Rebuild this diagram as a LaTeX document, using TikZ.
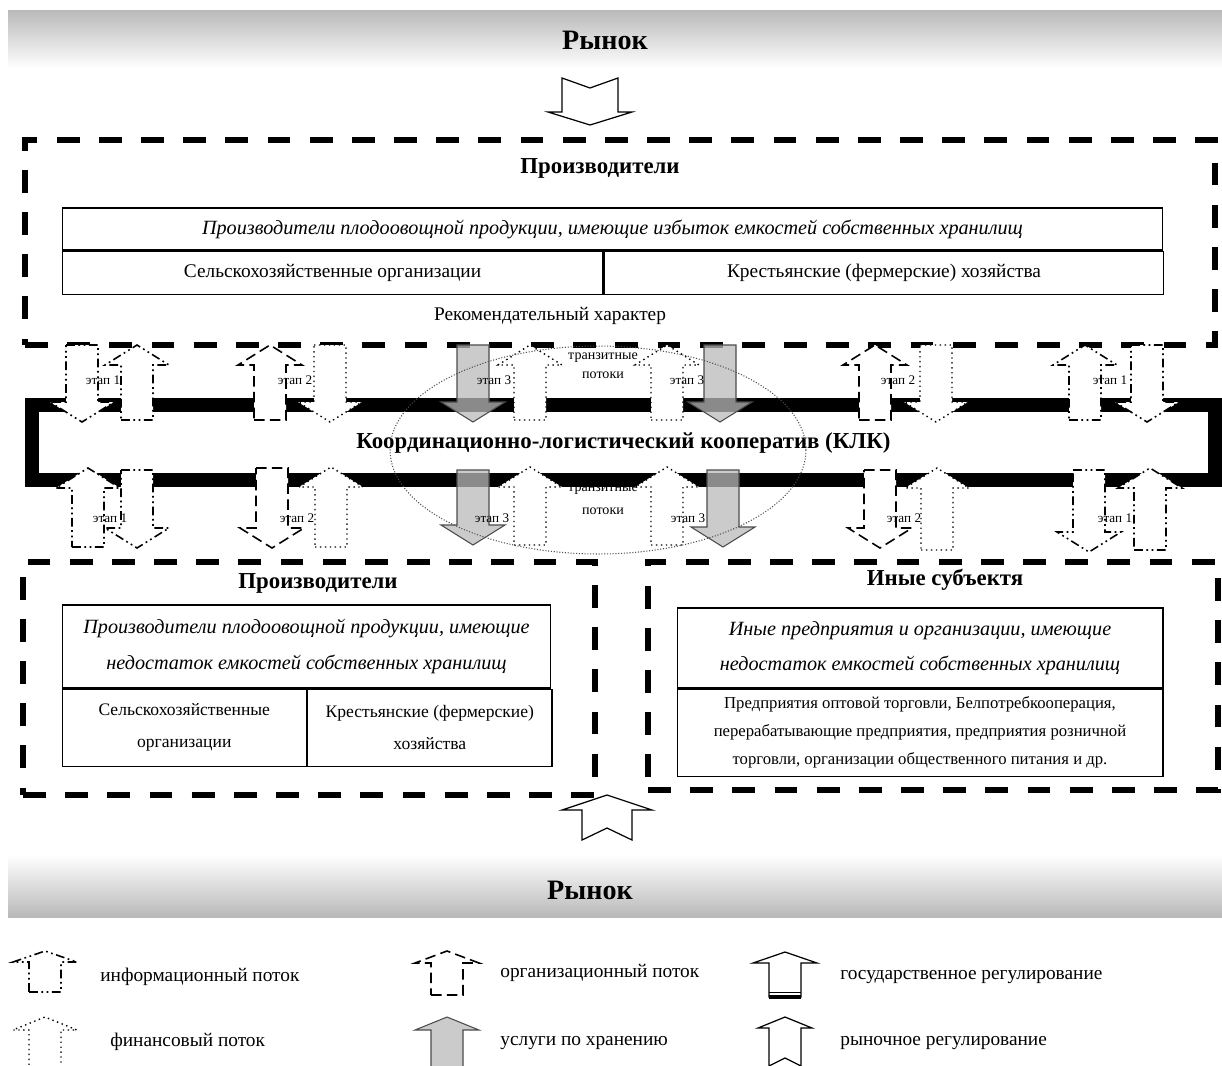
\documentclass[tikz,border=0pt]{standalone}
\usepackage{fontspec}
\setmainfont{Liberation Serif}
\usetikzlibrary{positioning}

% block arrow: [head length]{x}{tail y}{tip y}{style}
\newcommand{\blockarr}[5][20]{%
  \pgfmathsetmacro{\dr}{(#4-#3)/abs(#4-#3)}%
  \pgfmathsetmacro{\hb}{#4-#1*\dr}%
  \draw[#5] (#2-16,#3) -- (#2+16,#3) -- (#2+16,\hb) -- (#2+32,\hb) -- (#2,#4)
    -- (#2-32,\hb) -- (#2-16,\hb) -- cycle;}
% market arrow with notched tail: {x}{tail}{tip}{shaft half}{head half}{head length}{notch}
\newcommand{\mktarr}[7]{%
  \pgfmathsetmacro{\dr}{(#3-#2)/abs(#3-#2)}%
  \pgfmathsetmacro{\hb}{#3-#6*\dr}%
  \pgfmathsetmacro{\nt}{#2+#7*\dr}%
  \draw[mkt] (#1-#4,#2) -- (#1,\nt) -- (#1+#4,#2) -- (#1+#4,\hb) -- (#1+#5,\hb)
    -- (#1,#3) -- (#1-#5,\hb) -- (#1-#4,\hb) -- cycle;}

\begin{document}
\begin{tikzpicture}[x=0.02cm,y=-0.02cm,
    zone/.style={draw,line width=3.8pt,dash pattern=on 13pt off 11pt,inner sep=0pt},
    cell/.style={draw,line width=0.6pt,inner sep=2pt,align=center,font=\fontsize{11}{19}\selectfont},
    ttl/.style={font=\fontsize{13}{15}\selectfont\bfseries},
    mkttxt/.style={font=\fontsize{16}{18}\selectfont\bfseries},
    klkbox/.style={draw,line width=8pt,inner sep=0pt,font=\fontsize{13}{15}\selectfont\bfseries},
    info/.style={fill=white,line width=0.9pt,dash pattern=on 5pt off 2pt on 1pt off 2pt on 1pt off 2pt},
    orgf/.style={fill=white,line width=0.9pt,dash pattern=on 6pt off 3pt},
    finf/.style={fill=white,line width=0.8pt,dotted},
    stor/.style={draw=gray!60!black,fill=gray!55,fill opacity=0.75,line width=0.6pt},
    mkt/.style={draw,fill=white,line width=0.7pt},
    stage/.style={inner sep=1pt,font=\fontsize{7.5}{9}\selectfont},
    legtxt/.style={anchor=west,inner sep=0pt,font=\fontsize{11}{13}\selectfont}]
\useasboundingbox (0,0) rectangle (1222,1065);
\clip (0,0) rectangle (1222,1065);

% market bands
\shade[top color=gray!55,bottom color=white] (8,10) rectangle (1222,68);
\shade[top color=white,bottom color=gray!55] (8,855) rectangle (1222,917);
\node[mkttxt] (mkttop) at (605,40) {Рынок};
\node[mkttxt] (mktbot) at (590,890) {Рынок};
\mktarr{590}{78}{125}{28}{42}{13}{10}
\mktarr{607}{840}{795}{25}{45}{15}{12}

% producers with surplus storage
\node[zone,minimum width=23.8cm,minimum height=4.1cm] (topzone) at (620,242.5) {};
\node[ttl] (toptitle) at (600,168) {Производители};
\node[cell,font=\fontsize{11.5}{14}\selectfont\itshape,minimum width=22.02cm,minimum height=0.84cm] (topwide) at (612.5,229)
  {Производители плодоовощной продукции, имеющие избыток емкостей собственных хранилищ};
\node[cell,minimum width=10.82cm,minimum height=0.86cm,anchor=north west] (topagri) at (topwide.south west)
  {Сельскохозяйственные организации};
\node[cell,minimum width=11.2cm,minimum height=0.86cm,anchor=north west] (topfarm) at (topagri.north east)
  {Крестьянские (фермерские) хозяйства};
\node[font=\fontsize{11}{13}\selectfont] (advice) at (550,316) {Рекомендательный характер};

% producers lacking storage
\node[zone,minimum width=11.44cm,minimum height=4.66cm] (leftzone) at (309,678.5) {};
\node[ttl] (lefttitle) at (318,583) {Производители};
\node[cell,font=\fontsize{11.5}{20}\selectfont\itshape,minimum width=9.78cm,minimum height=1.66cm] (leftwide) at (306.5,646.5)
  {Производители плодоовощной продукции, имеющие\\недостаток емкостей собственных хранилищ};
\node[cell,font=\fontsize{10}{18}\selectfont,minimum width=4.89cm,minimum height=1.54cm,anchor=north west] (leftagri) at (leftwide.south west)
  {Сельскохозяйственные\\организации};
\node[cell,font=\fontsize{10}{18}\selectfont,minimum width=4.89cm,minimum height=1.54cm,anchor=north west] (leftfarm) at (leftagri.north east)
  {Крестьянские (фермерские)\\хозяйства};

% other subjects
\node[zone,minimum width=11.4cm,minimum height=4.56cm] (rightzone) at (933,676) {};
\node[ttl] (righttitle) at (945,580) {Иные субъектя};
\node[cell,font=\fontsize{11.5}{20}\selectfont\itshape,minimum width=9.72cm,minimum height=1.6cm] (rightwide) at (920,648)
  {Иные предприятия и организации, имеющие\\недостаток емкостей собственных хранилищ};
\node[cell,font=\fontsize{9.5}{16}\selectfont,minimum width=9.72cm,minimum height=1.74cm,anchor=north] (rightlist) at (rightwide.south)
  {Предприятия оптовой торговли, Белпотребкооперация,\\перерабатывающие предприятия, предприятия розничной\\торговли, организации общественного питания  и др.};

% cooperative
\node[klkbox,minimum width=23.66cm,minimum height=1.5cm] (klk) at (623.5,442.5)
  {Координационно-логистический кооператив (КЛК)};

% flows
\foreach \x/\a/\b/\s in {82/345/422/info,137/420/345/info,270/420/345/orgf,330/345/422/finf,
    473/345/422/stor,530/420/345/finf,667/420/345/finf,720/345/422/stor,
    875/420/345/orgf,936/345/422/finf,1085/420/345/info,1147/345/422/info,
    88/547/468/info,137/470/548/info,272/468/548/orgf,331/547/467/finf,
    473/470/545/stor,530/545/467/finf,667/545/467/finf,723/470/547/stor,
    880/470/548/orgf,937/550/468/finf,1089/470/552/info,1150/550/468/info}
  \blockarr{\x}{\a}{\b}{\s};
\foreach \x/\y/\n in {103/380/1,295/380/2,494/380/3,687/380/3,898/380/2,1110/380/1,
    110/518/1,297/518/2,492/518/3,688/518/3,904/518/2,1115/518/1}
  \node[stage] (st\x\y) at (\x,\y) {этап \n};

% transit
\draw[densely dotted,gray!60!black,line width=0.6pt] (598,450) ellipse [x radius=4.16cm,y radius=2.08cm];
\node[stage,font=\fontsize{8}{9}\selectfont,align=center] (transup) at (603,366) {транзитные\\[2pt]потоки};
\node[stage,font=\fontsize{8}{9}\selectfont,align=center] (transdown) at (603,500) {транзитные\\[4pt]потоки};

% legend
\blockarr[11]{45}{992}{951}{info}
\node[legtxt] (leginfo) at (100,977) {информационный поток};
\blockarr[13]{45}{1070}{1017}{finf}
\node[legtxt] (legfin) at (110,1042) {финансовый поток};
\blockarr[12]{447}{995}{951}{orgf}
\node[legtxt] (legorg) at (500,973) {организационный поток};
\blockarr[13]{447}{1070}{1017}{stor}
\node[legtxt] (legstor) at (500,1043) {услуги по хранению};
\blockarr[11]{785}{997}{952}{mkt}
\draw[line width=0.5pt] (769,992) -- (801,992);
\draw[line width=2.5pt] (769,997) -- (801,997);
\node[legtxt] (leggov) at (840,977) {государственное регулирование};
\mktarr{785}{1066}{1017}{16}{27}{11}{8}
\node[legtxt] (legmkt) at (840,1043) {рыночное регулирование};
\end{tikzpicture}
\end{document}
